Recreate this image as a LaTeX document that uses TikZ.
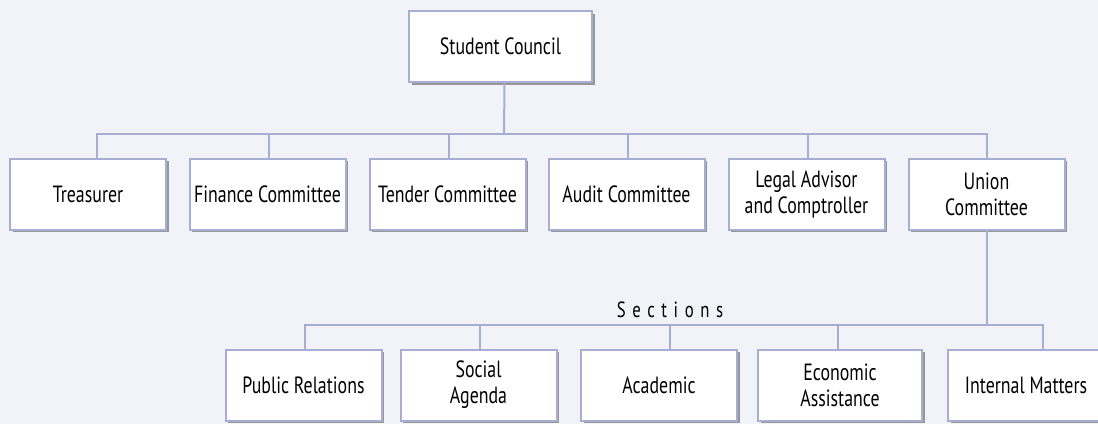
\documentclass[tikz,border=0pt]{standalone}
\usepackage{fontspec}
\setmainfont{PT Sans}[FakeStretch=0.76]
\usepackage{xcolor}
\usepackage{tikz}
\usetikzlibrary{shadows}
\definecolor{bgcol}{RGB}{242,243,248}
\definecolor{edgecol}{RGB}{168,174,210}
\tikzset{
  unit/.style={
    rectangle, draw=edgecol, line width=2pt, fill=white,
    minimum width=156pt, minimum height=71pt, inner sep=0pt,
    align=center, font=\fontsize{23.5}{26}\selectfont,
    drop shadow={shadow xshift=2.5pt, shadow yshift=-2.5pt, opacity=0.55, fill=black!70},
  },
  link/.style={draw=edgecol, line width=2pt},
}

\begin{document}
\begin{tikzpicture}[x=1pt,y=-1pt]
                \fill[bgcol] (0,0) rectangle (1098,424);
                \useasboundingbox (0,0) rectangle (1098,424);
                % top
                \node[unit, minimum width=183pt] (council) at (500.5,46.5) {Student Council};
                % first row
                \begin{scope}[every node/.append style={unit}]
                    \node (treas) at (88,194) {Treasurer};
                    \node (finance) at (267.5,194) {Finance Committee};
                    \node (tender) at (447.5,194) {Tender Committee};
                    \node (audit) at (626.5,194) {Audit Committee};
                    \node (legal) at (806.5,194) {Legal Advisor\\and Comptroller};
                    \node (union) at (986.5,194) {Union\\Committee};
                \end{scope}
                % sections
                \begin{scope}[every node/.append style={unit}]
                    \node (pubrel) at (303.5,385) {Public Relations};
                    \node (social) at (478.5,385) {Social\\Agenda};
                    \node (acad) at (659,385) {Academic};
                    \node[minimum width=164pt] (econ) at (840,385) {Economic\\Assistance};
                    \node (intern) at (1026,385) {Internal Matters};
                \end{scope}
                \coordinate (bus1) at (504,134);
                \coordinate (bus2) at (986.5,325);
                \node[font=\fontsize{22}{24}\selectfont\addfontfeature{LetterSpace=30}, anchor=base] (sect) at (670,317) {Sections};
                % lines
                \draw[link] ([xshift=4pt]council.south) -- (bus1);
                \draw[link] ([xshift=9pt]treas.north) |- (bus1) -| (union.north);
                \foreach \n in {finance,tender,audit,legal}
                    \draw[link] ([xshift=1.5pt]\n.north) -- ([xshift=1.5pt]\n.north |- bus1);
                \draw[link] (union.south) -- (bus2);
                \draw[link] ([xshift=1.5pt]pubrel.north) |- (bus2) -| ([xshift=17pt]intern.north);
                \draw[link] ([xshift=1.5pt]social.north) -- ([xshift=1.5pt]social.north |- bus2);
                \draw[link] ([xshift=11pt]acad.north) -- ([xshift=11pt]acad.north |- bus2);
                \draw[link] ([xshift=-2pt]econ.north) -- ([xshift=-2pt]econ.north |- bus2);
            \end{tikzpicture}
\end{document}
